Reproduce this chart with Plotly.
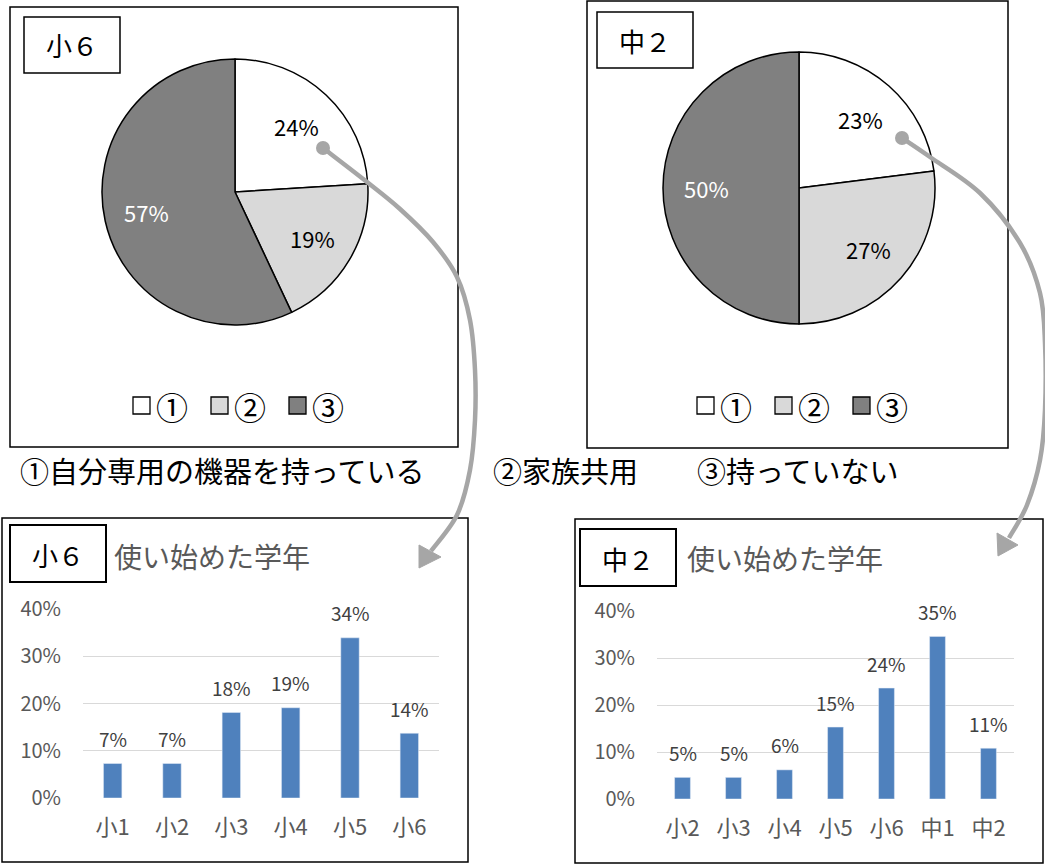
import math
import plotly.graph_objects as go

W, H = 1045, 868
FONT = "Noto Sans CJK JP"

# ---------------- data ----------------
pie_labels = ["①", "②", "③"]
pie_colors = ["#FFFFFF", "#D9D9D9", "#808080"]
pie_text_colors = ["#000000", "#000000", "#FFFFFF"]
pie_e6_values = [24, 19, 57]      # 小6
pie_j2_values = [23, 27, 50]      # 中2

bar_e6_cats = ["小1", "小2", "小3", "小4", "小5", "小6"]
bar_e6_vals = [0.073, 0.073, 0.181, 0.191, 0.339, 0.137]
bar_j2_cats = ["小2", "小3", "小4", "小5", "小6", "中1", "中2"]
bar_j2_vals = [0.046, 0.046, 0.062, 0.153, 0.236, 0.346, 0.108]

y_ticks = [0, 0.1, 0.2, 0.3, 0.4]

caption_texts = ["①自分専用の機器を持っている", "②家族共用", "③持っていない"]
bar_title = "使い始めた学年"
panel_labels = ["小６", "中２"]


def px_x(x):
    return x / W


def px_y(y):
    return 1 - y / H


fig = go.Figure()
ann = []
shapes = []


def text(x, y, s, size, color="#000000", xanchor="center"):
    ann.append(dict(x=px_x(x), y=px_y(y), xref="paper", yref="paper", text=s,
                    showarrow=False, xanchor=xanchor, yanchor="middle",
                    font=dict(family=FONT, size=size, color=color)))


# ---------------- pies ----------------
def add_pie(values, cx, cy, r):
    fig.add_trace(go.Pie(
        labels=pie_labels, values=values, sort=False, direction="clockwise",
        rotation=0,
        domain=dict(x=[px_x(cx - r), px_x(cx + r)], y=[px_y(cy + r), px_y(cy - r)]),
        marker=dict(colors=pie_colors, line=dict(color="#000000", width=1.5)),
        textinfo="none", hoverinfo="label+percent", showlegend=False,
    ))
    # data labels at ~0.68 r along each slice's mid-angle (Excel-like placement)
    total = sum(values)
    cum = 0
    for v, col in zip(values, pie_text_colors):
        mid = (cum + v / 2) / total * 2 * math.pi
        cum += v
        lx = cx + 0.68 * r * math.sin(mid)
        ly = cy - 0.68 * r * math.cos(mid)
        text(lx, ly, f"{round(v / total * 100)}%", 22, col)


add_pie(pie_e6_values, 235, 192, 133)
add_pie(pie_j2_values, 799, 188, 136)

# ---------------- bars ----------------
bar_common = dict(marker=dict(color="#4F81BD"), showlegend=False,
                  hovertemplate="%{x}: %{y:.0%}<extra></extra>")
fig.add_trace(go.Bar(x=bar_e6_cats, y=bar_e6_vals, xaxis="x", yaxis="y", **bar_common))
fig.add_trace(go.Bar(x=bar_j2_cats, y=bar_j2_vals, xaxis="x2", yaxis="y2", **bar_common))

# bar value labels (placed through the axes' own scales)
for cats, vals, xr, yr in ((bar_e6_cats, bar_e6_vals, "x", "y"),
                           (bar_j2_cats, bar_j2_vals, "x2", "y2")):
    for c, v in zip(cats, vals):
        ann.append(dict(x=c, y=v, xref=xr, yref=yr, text=f"{round(v * 100)}%",
                        showarrow=False, xanchor="center", yanchor="middle", yshift=25,
                        font=dict(family=FONT, size=19, color="#404040")))

axis_y = dict(range=[0, 0.4], tickvals=y_ticks, tickformat=".0%", showgrid=True,
              gridcolor="#D9D9D9", gridwidth=1.3, zeroline=False, showline=False,
              ticks="", tickfont=dict(family=FONT, size=20, color="#595959"),
              ticklabelstandoff=21, fixedrange=True, automargin=False)
axis_x = dict(showgrid=False, zeroline=False, showline=False, ticks="",
              tickfont=dict(family=FONT, size=22, color="#595959"),
              ticklabelstandoff=14, fixedrange=True, automargin=False)

fig.update_layout(
    xaxis=dict(domain=[px_x(83), px_x(439)], anchor="y", **axis_x),
    yaxis=dict(domain=[px_y(798), px_y(609)], anchor="x", **axis_y),
    xaxis2=dict(domain=[px_x(657), px_x(1014)], anchor="y2", **axis_x),
    yaxis2=dict(domain=[px_y(799), px_y(611)], anchor="x2", **axis_y),
    bargap=0.69,
)


# ---------------- shapes ----------------
def rect(x0, y0, x1, y1, width=1.5, fill="rgba(0,0,0,0)", color="#000000"):
    shapes.append(dict(type="rect", xref="paper", yref="paper",
                       x0=px_x(x0), x1=px_x(x1), y0=px_y(y1), y1=px_y(y0),
                       line=dict(color=color, width=width),
                       fillcolor=fill, layer="below"))


# panel frames
rect(10, 7, 458, 447)
rect(587, 1, 1008, 448)
rect(2, 518, 468, 862)
rect(575, 519, 1043, 863)
# label boxes
rect(24, 17, 120, 73)
rect(597, 12, 693, 68)
rect(10, 525, 106, 582, width=2)
rect(580, 529, 676, 586, width=2)

# pie legends (square swatch + circled number)
for lx0 in (133, 697):
    for i, (lab, colr) in enumerate(zip(pie_labels, pie_colors)):
        sx = lx0 + i * 78
        rect(sx, 397, sx + 17, 414, width=1.3, fill=colr, color="#000000")
        text(sx + 21, 406, lab, 32, xanchor="left")

ARROW = "#A6A6A6"


def smooth_path(pts):
    P = [(px_x(x), px_y(y)) for x, y in pts]
    d = f"M {P[0][0]:.5f},{P[0][1]:.5f}"
    for i in range(len(P) - 1):
        p0 = P[i - 1] if i > 0 else P[i]
        p1, p2 = P[i], P[i + 1]
        p3 = P[i + 2] if i + 2 < len(P) else P[i + 1]
        c1 = (p1[0] + (p2[0] - p0[0]) / 6, p1[1] + (p2[1] - p0[1]) / 6)
        c2 = (p2[0] - (p3[0] - p1[0]) / 6, p2[1] - (p3[1] - p1[1]) / 6)
        d += f" C {c1[0]:.5f},{c1[1]:.5f} {c2[0]:.5f},{c2[1]:.5f} {p2[0]:.5f},{p2[1]:.5f}"
    return d


def poly_path(pts):
    P = [(px_x(x), px_y(y)) for x, y in pts]
    return "M " + " L ".join(f"{a:.5f},{b:.5f}" for a, b in P) + " Z"


def arrow(curve, head, dot):
    shapes.append(dict(type="path", xref="paper", yref="paper", path=smooth_path(curve),
                       line=dict(color=ARROW, width=4.5), layer="above"))
    shapes.append(dict(type="path", xref="paper", yref="paper", path=poly_path(head),
                       fillcolor=ARROW, line=dict(color=ARROW, width=1), layer="above"))
    cx, cy = dot
    r = 7
    shapes.append(dict(type="circle", xref="paper", yref="paper",
                       x0=px_x(cx - r), x1=px_x(cx + r), y0=px_y(cy + r), y1=px_y(cy - r),
                       fillcolor=ARROW, line=dict(color=ARROW, width=0), layer="above"))


arrow([(323, 148), (367, 182), (400, 209), (433, 242), (457, 277), (470, 320),
       (475, 370), (475, 420), (470, 470), (457, 515), (431, 551)],
      [(419, 568), (419, 545), (441, 557)], (323, 148))
arrow([(902, 138), (930, 157), (980, 193), (1020, 243), (1040, 293), (1045, 343),
       (1045, 410), (1040, 460), (1027, 505), (1009, 538)],
      [(998, 556), (997, 533), (1018, 545)], (902, 138))

# ---------------- texts ----------------
text(72, 45, panel_labels[0], 26)
text(645, 40, panel_labels[1], 26)
text(58, 554, panel_labels[0], 26)
text(628, 558, panel_labels[1], 26)
text(112, 556, bar_title, 28, "#595959", "left")
text(685, 558, bar_title, 28, "#595959", "left")
text(18, 470, caption_texts[0], 29, xanchor="left")
text(491, 470, caption_texts[1], 29, xanchor="left")
text(695, 470, caption_texts[2], 29, xanchor="left")

fig.update_layout(
    width=W, height=H, margin=dict(l=0, r=0, t=0, b=0, autoexpand=False),
    paper_bgcolor="#FFFFFF", plot_bgcolor="#FFFFFF",
    shapes=shapes, annotations=ann, showlegend=False,
    font=dict(family=FONT),
)

fig.write_html("out.html", config={"displayModeBar": False},
               post_script="document.body.style.margin='0px';")
